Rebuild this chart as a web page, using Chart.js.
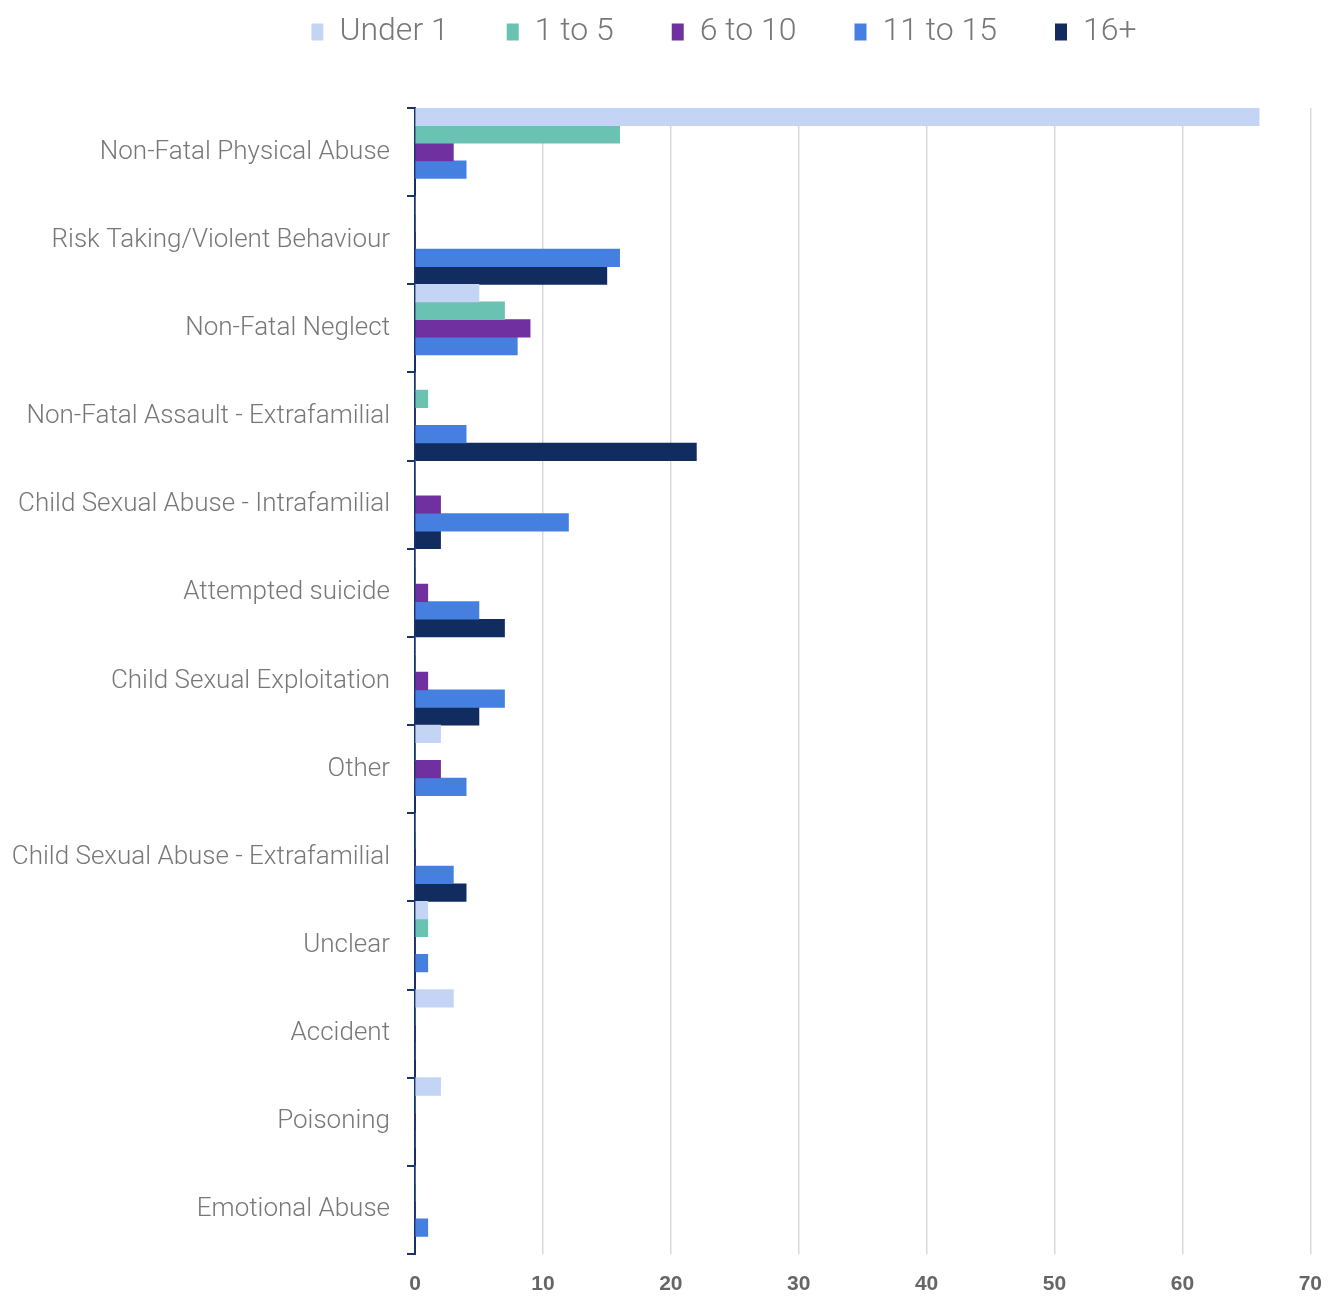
<!DOCTYPE html>
<html lang="en">
<head>
    <meta charset="UTF-8">
    <title>Incidents by age group</title>
    <script src="https://cdn.jsdelivr.net/npm/chart.js"></script>
    <style>
        body { margin: 0; background: #fff; }
        #wrap { width: 1340px; height: 1298px; }
    </style>
</head>
<body>
    <div id="wrap"><canvas id="grafico"></canvas></div>
    <script>
        // categorias e valores
        const categorias = [
            'Non-Fatal Physical Abuse',
            'Risk Taking/Violent Behaviour',
            'Non-Fatal Neglect',
            'Non-Fatal Assault - Extrafamilial',
            'Child Sexual Abuse - Intrafamilial',
            'Attempted suicide',
            'Child Sexual Exploitation',
            'Other',
            'Child Sexual Abuse - Extrafamilial',
            'Unclear',
            'Accident',
            'Poisoning',
            'Emotional Abuse'
        ];
        const under1   = [66, 0, 5, 0, 0, 0, 0, 2, 0, 1, 3, 2, 0];
        const age1to5  = [16, 0, 7, 1, 0, 0, 0, 0, 0, 1, 0, 0, 0];
        const age6to10 = [3, 0, 9, 0, 2, 1, 1, 2, 0, 0, 0, 0, 0];
        const age11to15 = [4, 16, 8, 4, 12, 5, 7, 4, 3, 1, 0, 0, 1];
        const age16plus = [0, 15, 0, 22, 2, 7, 5, 0, 4, 0, 0, 0, 0];
        const xTicks = [0, 10, 20, 30, 40, 50, 60, 70];

        const navy = '#1b3468';

        // legenda: posição ajustada à mão
        const legendAjuste = {
            id: 'legendAjuste',
            afterLayout(chart) {
                const lg = chart.legend;
                lg.top -= 50;
                lg.left += 66;
                lg.right += 66;
            }
        };

        const ctx = document.getElementById('grafico').getContext('2d');
        new Chart(ctx, {
            type: 'bar',
            data: {
                labels: categorias,
                datasets: [
                    { label: 'Under 1', data: under1, backgroundColor: '#c3d4f4' },
                    { label: '1 to 5', data: age1to5, backgroundColor: '#6ac2b3' },
                    { label: '6 to 10', data: age6to10, backgroundColor: '#7030a0' },
                    { label: '11 to 15', data: age11to15, backgroundColor: '#4580e0' },
                    { label: '16+', data: age16plus, backgroundColor: '#112c5e' }
                ]
            },
            options: {
                indexAxis: 'y',
                responsive: true,
                maintainAspectRatio: false,
                animation: false,
                datasets: {
                    bar: { categoryPercentage: 1, barPercentage: 1 }
                },
                layout: { padding: { top: 8, right: 24, bottom: 0, left: 0 } },
                plugins: {
                    legend: {
                        position: 'top',
                        labels: {
                            boxWidth: 12,
                            boxHeight: 17,
                            padding: 58,
                            color: '#777',
                            font: { family: 'Roboto, sans-serif', size: 32, weight: '300' }
                        }
                    },
                    tooltip: { enabled: false }
                },
                scales: {
                    x: {
                        min: 0,
                        max: 70,
                        afterBuildTicks(scale) {
                            scale.ticks = xTicks.map(v => ({ value: v }));
                        },
                        afterFit(scale) { scale.height = 44; },
                        grid: { color: '#d9d9d9', lineWidth: 1.5, drawTicks: false },
                        border: { display: false },
                        ticks: {
                            padding: 18,
                            color: '#666',
                            font: { family: 'Liberation Sans, Arial, sans-serif', size: 21, weight: 'bold' }
                        }
                    },
                    y: {
                        afterFit(scale) { scale.width = 415; },
                        grid: {
                            offset: true,
                            drawOnChartArea: false,
                            color: navy,
                            lineWidth: 2,
                            tickLength: 8
                        },
                        border: { display: true, color: navy, width: 2 },
                        ticks: {
                            padding: 17,
                            color: '#777',
                            font: { family: 'Roboto, sans-serif', size: 26, weight: '300' }
                        }
                    }
                }
            },
            plugins: [legendAjuste]
        });
    </script>
</body>
</html>
